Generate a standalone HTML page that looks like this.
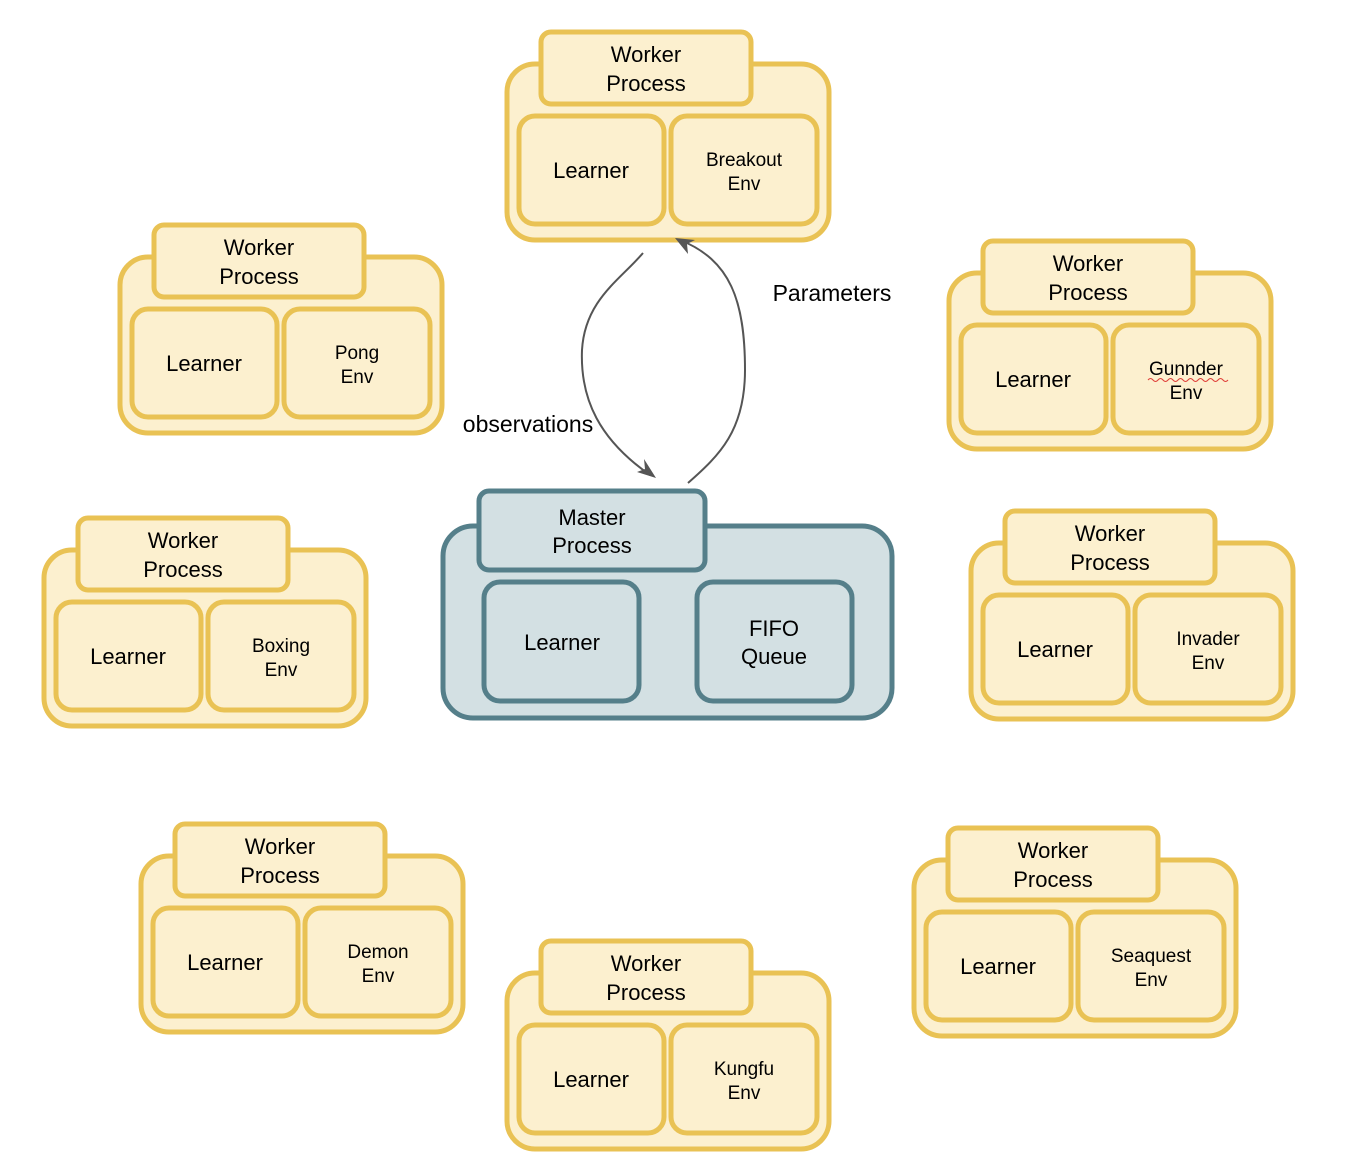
<!DOCTYPE html>
<html><head><meta charset="utf-8"><style>
html,body{margin:0;padding:0;background:#fff;}
svg{display:block;}
text{font-family:"Liberation Sans",Arial,sans-serif;fill:#000;text-anchor:middle;}
.y{fill:#fcf0cf;stroke:#e9c254;stroke-width:5;}
.b{fill:#d3e0e3;stroke:#557f8a;stroke-width:5;}
.t22{font-size:22px;}
.t19{font-size:19px;}
</style></head><body>
<svg width="1364" height="1158" viewBox="0 0 1364 1158" xmlns="http://www.w3.org/2000/svg">
<defs>
<g id="w">
<rect class="y" x="-34" y="32" width="322" height="176" rx="28"/>
<rect class="y" x="0" y="0" width="210" height="72" rx="10"/>
<rect class="y" x="-22" y="84" width="145" height="108" rx="16"/>
<rect class="y" x="130" y="84" width="146" height="108" rx="16"/>
<text class="t22" x="105" y="30">Worker</text>
<text class="t22" x="105" y="59">Process</text>
<text class="t22" x="50" y="146">Learner</text>
</g>
</defs>

<g transform="translate(541,32)"><use href="#w"/><text class="t19" x="203" y="134">Breakout</text><text class="t19" x="203" y="158">Env</text></g>
<g transform="translate(154,225)"><use href="#w"/><text class="t19" x="203" y="134">Pong</text><text class="t19" x="203" y="158">Env</text></g>
<g transform="translate(983,241)"><use href="#w"/><text class="t19" x="203" y="134">Gunnder</text><text class="t19" x="203" y="158">Env</text>
<path d="M165 139 q2.5 -3 5 0 t5 0 t5 0 t5 0 t5 0 t5 0 t5 0 t5 0 t5 0 t5 0 t5 0 t5 0 t5 0 t5 0 t5 0 t5 0" fill="none" stroke="#e0403a" stroke-width="1"/></g>
<g transform="translate(78,518)"><use href="#w"/><text class="t19" x="203" y="134">Boxing</text><text class="t19" x="203" y="158">Env</text></g>
<g transform="translate(1005,511)"><use href="#w"/><text class="t19" x="203" y="134">Invader</text><text class="t19" x="203" y="158">Env</text></g>
<g transform="translate(175,824)"><use href="#w"/><text class="t19" x="203" y="134">Demon</text><text class="t19" x="203" y="158">Env</text></g>
<g transform="translate(541,941)"><use href="#w"/><text class="t19" x="203" y="134">Kungfu</text><text class="t19" x="203" y="158">Env</text></g>
<g transform="translate(948,828)"><use href="#w"/><text class="t19" x="203" y="134">Seaquest</text><text class="t19" x="203" y="158">Env</text></g>

<!-- Master -->
<rect class="b" x="443" y="526" width="449" height="192" rx="30"/>
<rect class="b" x="479" y="491" width="226" height="79" rx="10"/>
<rect class="b" x="484" y="582" width="155" height="119" rx="16"/>
<rect class="b" x="697" y="582" width="155" height="119" rx="16"/>
<text class="t22" x="592" y="525">Master</text>
<text class="t22" x="592" y="553">Process</text>
<text class="t22" x="562" y="650">Learner</text>
<text class="t22" x="774" y="636">FIFO</text>
<text class="t22" x="774" y="664">Queue</text>

<!-- arrows -->
<path d="M643 253 C620 280 585 300 582 350 C580 400 600 440 650 475" fill="none" stroke="#555" stroke-width="2"/>
<path d="M656 478 L637 472 L645 469 L644 459 Z" fill="#555"/>
<path d="M688 483 C720 455 745 430 745 370 C745 300 730 260 680 240" fill="none" stroke="#555" stroke-width="2"/>
<path d="M675 238 L695 240 L687 244 L688 254 Z" fill="#555"/>
<text x="832" y="301" style="font-size:23px">Parameters</text>
<text x="528" y="432" style="font-size:23px">observations</text>
</svg>
</body></html>
